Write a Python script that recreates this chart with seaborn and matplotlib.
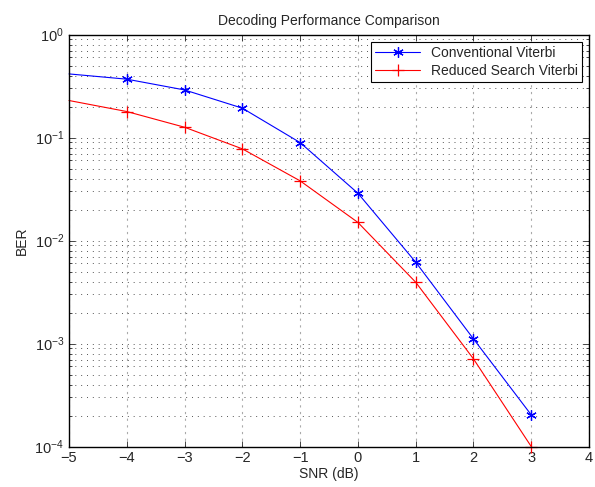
import matplotlib
matplotlib.use("Agg")
import matplotlib.pyplot as plt
from matplotlib.ticker import LogLocator, MultipleLocator, NullFormatter
import pandas as pd
import seaborn as sns

sns.set_style("ticks")
plt.rcParams['font.family'] = ['Liberation Sans', 'DejaVu Sans']
plt.rcParams['mathtext.default'] = 'regular'

snr = [-5, -4, -3, -2, -1, 0, 1, 2, 3]
ber_conv = [0.415, 0.369, 0.290, 0.193, 0.0894, 0.0288, 0.00617, 0.00111, 0.000203]
ber_reduced = [0.229, 0.179, 0.126, 0.0777, 0.038, 0.0150, 0.00394, 0.00071, 0.0001]

df = pd.DataFrame({'snr': snr, 'conv': ber_conv, 'reduced': ber_reduced})

fig = plt.figure(figsize=(5.95, 4.87), dpi=100)
ax = fig.add_axes([0.116, 0.083, 0.874, 0.846])

# markers only from -4 onward, as in the original
sns.lineplot(data=df, x='snr', y='conv', ax=ax, color='blue', linewidth=0.8,
             marker=(6, 2, 0), markersize=7.5, markeredgewidth=0.9,
             markeredgecolor='blue', markevery=list(range(1, 9)),
             label='Conventional Viterbi', clip_on=False)
sns.lineplot(data=df, x='snr', y='reduced', ax=ax, color='red', linewidth=0.8,
             marker='+', markersize=8.5, markeredgewidth=0.9,
             markeredgecolor='red', markevery=list(range(1, 9)),
             label='Reduced Search Viterbi', clip_on=False)

ax.set_yscale('log')
ax.set_xlim(-5, 4)
ax.set_ylim(1e-4, 1)
ax.xaxis.set_major_locator(MultipleLocator(1))
ax.yaxis.set_major_locator(LogLocator(base=10, numticks=10))
ax.yaxis.set_minor_locator(LogLocator(base=10, subs=range(2, 10), numticks=20))
ax.yaxis.set_minor_formatter(NullFormatter())

dots = (0, (1, 5))
ax.grid(True, which='major', axis='x', color='#aaaaaa', linestyle=(0, (2, 4)), linewidth=0.8)
ax.grid(True, which='major', axis='y', color='#555555', linestyle=dots, linewidth=0.7)
ax.grid(True, which='minor', axis='y', color='#555555', linestyle=dots, linewidth=0.7)

ax.tick_params(which='both', direction='in', top=True, right=True, labelsize=10.5, width=0.6)
ax.tick_params(which='major', length=4)
ax.tick_params(which='minor', length=2)
for s in ax.spines.values():
    s.set_linewidth(1.0)
    s.set_color('black')

ax.set_xlabel('SNR (dB)', fontsize=10, labelpad=1)
ax.set_ylabel('BER', fontsize=10)
ax.set_title('Decoding Performance Comparison', fontsize=10, pad=7)

leg = ax.legend(loc='upper right', fontsize=10, frameon=True, fancybox=False,
                borderaxespad=0.5, handlelength=3.2, borderpad=0.3, labelspacing=0.3)
leg.get_frame().set_edgecolor('black')
leg.get_frame().set_linewidth(0.8)
leg.get_frame().set_alpha(1)

fig.savefig('out.png', dpi=100)
